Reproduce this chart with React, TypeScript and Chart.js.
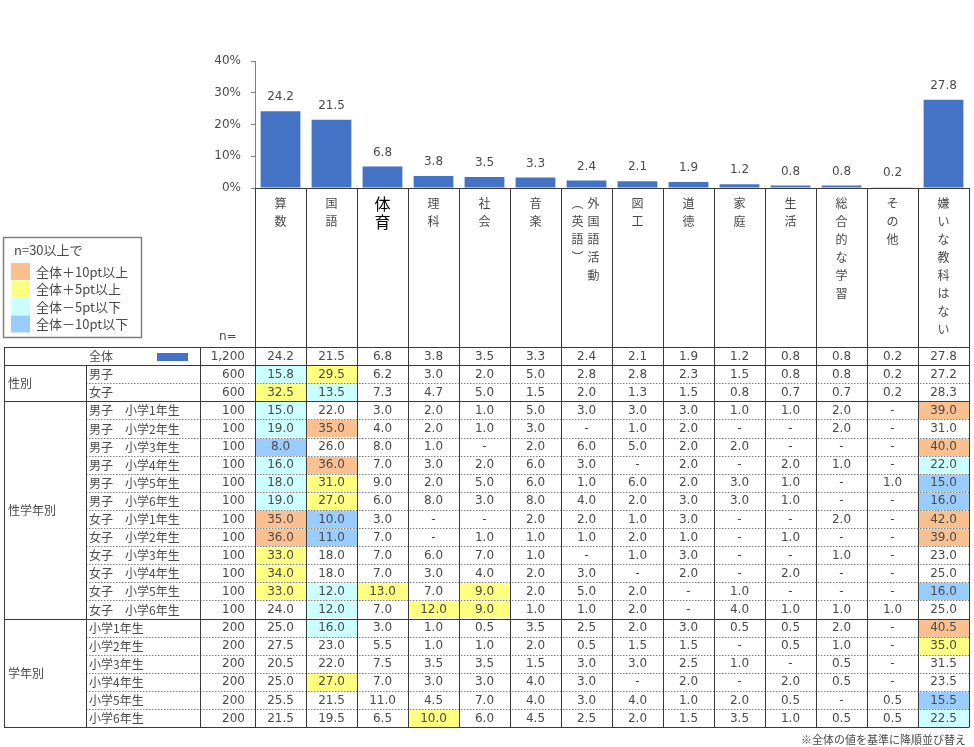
import React, { useEffect, useRef } from 'react';
import { Chart, registerables } from 'chart.js';

Chart.register(...registerables);

// ---------- data ----------
const subjects = ['算数', '国語', '体育', '理科', '社会', '音楽', '外国語活動（英語）', '図工', '道徳', '家庭', '生活', '総合的な学習', 'その他', '嫌いな教科はない'];
const headerColumns: string[][] = [['算数'], ['国語'], ['体育'], ['理科'], ['社会'], ['音楽'], ['外国語活動', '︵英語︶'], ['図工'], ['道徳'], ['家庭'], ['生活'], ['総合的な学習'], ['その他'], ['嫌いな教科はない']];
const overall = [24.2, 21.5, 6.8, 3.8, 3.5, 3.3, 2.4, 2.1, 1.9, 1.2, 0.8, 0.8, 0.2, 27.8];
const yTicks = [0, 10, 20, 30, 40];

const rowLabels = ['全体', '男子', '女子',
  '男子　小学1年生', '男子　小学2年生', '男子　小学3年生', '男子　小学4年生', '男子　小学5年生', '男子　小学6年生',
  '女子　小学1年生', '女子　小学2年生', '女子　小学3年生', '女子　小学4年生', '女子　小学5年生', '女子　小学6年生',
  '小学1年生', '小学2年生', '小学3年生', '小学4年生', '小学5年生', '小学6年生'];
const rowN = [1200, 600, 600, 100, 100, 100, 100, 100, 100, 100, 100, 100, 100, 100, 100, 200, 200, 200, 200, 200, 200];
const _ = null;
const rowValues: (number | null)[][] = [
  overall,
  [15.8, 29.5, 6.2, 3.0, 2.0, 5.0, 2.8, 2.8, 2.3, 1.5, 0.8, 0.8, 0.2, 27.2],
  [32.5, 13.5, 7.3, 4.7, 5.0, 1.5, 2.0, 1.3, 1.5, 0.8, 0.7, 0.7, 0.2, 28.3],
  [15.0, 22.0, 3.0, 2.0, 1.0, 5.0, 3.0, 3.0, 3.0, 1.0, 1.0, 2.0, _, 39.0],
  [19.0, 35.0, 4.0, 2.0, 1.0, 3.0, _, 1.0, 2.0, _, _, 2.0, _, 31.0],
  [8.0, 26.0, 8.0, 1.0, _, 2.0, 6.0, 5.0, 2.0, 2.0, _, _, _, 40.0],
  [16.0, 36.0, 7.0, 3.0, 2.0, 6.0, 3.0, _, 2.0, _, 2.0, 1.0, _, 22.0],
  [18.0, 31.0, 9.0, 2.0, 5.0, 6.0, 1.0, 6.0, 2.0, 3.0, 1.0, _, 1.0, 15.0],
  [19.0, 27.0, 6.0, 8.0, 3.0, 8.0, 4.0, 2.0, 3.0, 3.0, 1.0, _, _, 16.0],
  [35.0, 10.0, 3.0, _, _, 2.0, 2.0, 1.0, 3.0, _, _, 2.0, _, 42.0],
  [36.0, 11.0, 7.0, _, 1.0, 1.0, 1.0, 2.0, 1.0, _, 1.0, _, _, 39.0],
  [33.0, 18.0, 7.0, 6.0, 7.0, 1.0, _, 1.0, 3.0, _, _, 1.0, _, 23.0],
  [34.0, 18.0, 7.0, 3.0, 4.0, 2.0, 3.0, _, 2.0, _, 2.0, _, _, 25.0],
  [33.0, 12.0, 13.0, 7.0, 9.0, 2.0, 5.0, 2.0, _, 1.0, _, _, _, 16.0],
  [24.0, 12.0, 7.0, 12.0, 9.0, 1.0, 1.0, 2.0, _, 4.0, 1.0, 1.0, 1.0, 25.0],
  [25.0, 16.0, 3.0, 1.0, 0.5, 3.5, 2.5, 2.0, 3.0, 0.5, 0.5, 2.0, _, 40.5],
  [27.5, 23.0, 5.5, 1.0, 1.0, 2.0, 0.5, 1.5, 1.5, _, 0.5, 1.0, _, 35.0],
  [20.5, 22.0, 7.5, 3.5, 3.5, 1.5, 3.0, 3.0, 2.5, 1.0, _, 0.5, _, 31.5],
  [25.0, 27.0, 7.0, 3.0, 3.0, 4.0, 3.0, _, 2.0, _, 2.0, 0.5, _, 23.5],
  [25.5, 21.5, 11.0, 4.5, 7.0, 4.0, 3.0, 4.0, 1.0, 2.0, 0.5, _, 0.5, 15.5],
  [21.5, 19.5, 6.5, 10.0, 6.0, 4.5, 2.5, 2.0, 1.5, 3.5, 1.0, 0.5, 0.5, 22.5],
];
const groupLabels = ['性別', '性学年別', '学年別'];
const groupStarts = [1, 3, 15];
const groupCounts = [2, 12, 6];

const legendTitle = 'n=30以上で';
const legendLabels = ['全体＋10pt以上', '全体＋5pt以上', '全体－5pt以下', '全体－10pt以下'];
const legendColors = ['#FAC090', '#FFFF80', '#CCFFFF', '#99CCFF'];
const footnote = '※全体の値を基準に降順並び替え';

// ---------- style ----------
const FONT = '"DejaVu Sans", "Noto Sans CJK JP", sans-serif';
const JFONT = '"Noto Sans CJK JP", "DejaVu Sans", sans-serif';
const TEXT = '#4a4a4a';
const LINE = '#3a3a3a';
const BAR = '#4472C4';
const TABLE_TOP = 347;
const ROW_H = 18.1;

function cellColor(v: number | null, base: number): string | null {
  if (v == null) return null;
  const d = Math.round((v - base) * 10) / 10;
  if (d >= 10) return legendColors[0];
  if (d >= 5) return legendColors[1];
  if (d <= -10) return legendColors[3];
  if (d <= -5) return legendColors[2];
  return null;
}

const px = (v: number) => Math.round(v) + 0.5;

const barLabelPlugin = {
  id: 'barLabels',
  afterDatasetsDraw(chart: any) {
    const ctx = chart.ctx;
    const meta = chart.getDatasetMeta(0);
    ctx.save();
    ctx.font = '12px ' + FONT;
    ctx.fillStyle = TEXT;
    ctx.textAlign = 'center';
    ctx.textBaseline = 'middle';
    meta.data.forEach((el: any, i: number) => {
      ctx.fillText(overall[i].toFixed(1), el.x, el.y - 14);
    });
    ctx.restore();
  },
};

const tablePlugin = {
  id: 'table',
  afterDraw(chart: any) {
    const ctx: CanvasRenderingContext2D = chart.ctx;
    const xs = chart.scales.x;
    const area = chart.chartArea;
    const colW = xs.getPixelForValue(1) - xs.getPixelForValue(0);
    const colLeft = (i: number) => xs.getPixelForValue(i) - colW / 2;
    const ncol = subjects.length;
    const right = colLeft(ncol);
    const nRows = rowLabels.length;
    const rowY = (r: number) => TABLE_TOP + r * ROW_H;
    const bottom = rowY(nRows);
    const L0 = 4, L1 = 86, L2 = 200;
    ctx.save();

    // cell fills
    for (let r = 1; r < nRows; r++) {
      for (let c = 0; c < ncol; c++) {
        const col = cellColor(rowValues[r][c], overall[c]);
        if (!col) continue;
        ctx.fillStyle = col;
        ctx.fillRect(Math.round(colLeft(c)) + 1, Math.round(rowY(r)) + 1, Math.round(colW) - 1, Math.round(ROW_H) - 1);
      }
    }

    // dotted lines inside groups
    ctx.strokeStyle = '#808080';
    ctx.lineWidth = 1;
    ctx.setLineDash([1.5, 1.5]);
    groupStarts.forEach((s, g) => {
      for (let k = 1; k < groupCounts[g]; k++) {
        const y = px(rowY(s + k));
        ctx.beginPath(); ctx.moveTo(L1, y); ctx.lineTo(right, y); ctx.stroke();
      }
    });
    ctx.setLineDash([]);

    // solid lines
    ctx.strokeStyle = LINE;
    const hLines = [0, 1, ...groupStarts.map((s, g) => s + groupCounts[g])];
    hLines.forEach((r) => {
      const y = px(rowY(r));
      ctx.beginPath(); ctx.moveTo(L0, y); ctx.lineTo(right + 0.5, y); ctx.stroke();
    });
    // x axis line
    ctx.beginPath(); ctx.moveTo(px(colLeft(0)), px(area.bottom)); ctx.lineTo(px(right), px(area.bottom)); ctx.stroke();
    // verticals
    const vline = (x: number, y0: number, y1: number) => {
      ctx.beginPath(); ctx.moveTo(px(x), y0); ctx.lineTo(px(x), y1); ctx.stroke();
    };
    vline(L0, rowY(0), bottom);
    vline(L1, rowY(1), bottom);
    vline(L2, rowY(0), bottom);
    for (let c = 0; c <= ncol; c++) vline(colLeft(c), area.bottom, bottom);

    // header vertical text
    ctx.textAlign = 'center';
    ctx.textBaseline = 'middle';
    headerColumns.forEach((cols, c) => {
      const cx = xs.getPixelForValue(c);
      const big = c === 2;
      ctx.font = (big ? '16px ' : '12px ') + JFONT;
      ctx.fillStyle = big ? '#000' : TEXT;
      cols.forEach((str, k) => {
        const x = cols.length === 1 ? cx : (k === 0 ? cx + 7 : cx - 9);
        [...str].forEach((ch, j) => ctx.fillText(ch, x, 203 + j * 18.1 + (big ? 1 : 0)));
      });
    });

    // n= label
    ctx.font = '12px ' + FONT;
    ctx.fillStyle = TEXT;
    ctx.textAlign = 'left';
    ctx.fillText('n=', 219, 337);

    // legend box
    ctx.strokeStyle = '#7f7f7f';
    ctx.lineWidth = 1.5;
    ctx.strokeRect(3.5, 237.5, 138, 100);
    ctx.lineWidth = 1;
    ctx.font = '13px ' + JFONT;
    ctx.fillStyle = TEXT;
    ctx.fillText(legendTitle, 14, 250);
    legendLabels.forEach((lab, i) => {
      const y = 263 + i * 17.5;
      ctx.fillStyle = legendColors[i];
      ctx.fillRect(11, y, 19, 17);
      ctx.fillStyle = TEXT;
      ctx.fillText(lab, 36, y + 9);
    });

    // table text
    for (let r = 0; r < nRows; r++) {
      const cy = rowY(r) + ROW_H / 2 + 0.5;
      ctx.font = '12px ' + JFONT;
      ctx.fillStyle = TEXT;
      if (r === 0) {
        ctx.textAlign = 'center';
        ctx.fillText(rowLabels[r], 101, cy);
        ctx.fillStyle = BAR;
        ctx.fillRect(157, Math.round(cy) - 4, 31, 8);
        ctx.fillStyle = TEXT;
      } else {
        ctx.textAlign = 'left';
        ctx.fillText(rowLabels[r], 89, cy);
      }
      ctx.font = '12px ' + FONT;
      ctx.textAlign = 'right';
      ctx.fillText(rowN[r].toLocaleString('en-US'), 245, cy);
      ctx.textAlign = 'center';
      for (let c = 0; c < ncol; c++) {
        const v = rowValues[r][c];
        ctx.fillText(v == null ? '-' : v.toFixed(1), xs.getPixelForValue(c), cy);
      }
    }
    // group labels
    ctx.font = '12px ' + JFONT;
    ctx.textAlign = 'left';
    groupStarts.forEach((s, g) => {
      const cy = rowY(s) + (groupCounts[g] * ROW_H) / 2 + 0.5;
      ctx.fillText(groupLabels[g], 8, cy);
    });

    // footnote
    ctx.font = '11px ' + JFONT;
    ctx.textAlign = 'right';
    ctx.fillText(footnote, 966, 740);

    ctx.restore();
  },
};

export default function App() {
  const ref = useRef<HTMLCanvasElement | null>(null);
  useEffect(() => {
    if (!ref.current) return;
    const chart = new Chart(ref.current, {
      type: 'bar',
      data: {
        labels: subjects,
        datasets: [{
          data: overall,
          backgroundColor: BAR,
          borderWidth: 0,
          barPercentage: 0.78,
          categoryPercentage: 1,
        }],
      },
      options: {
        responsive: false,
        animation: false,
        devicePixelRatio: 1,
        layout: { padding: { left: 0, right: 5, top: 61, bottom: 559 } },
        plugins: { legend: { display: false }, tooltip: { enabled: false } },
        scales: {
          x: { display: false },
          y: {
            min: 0,
            max: 40,
            afterFit: (s: any) => { s.width = 255; },
            afterBuildTicks: (s: any) => { s.ticks = yTicks.map((v) => ({ value: v })); },
            ticks: {
              callback: (v: any) => v + '%',
              font: { size: 12, family: FONT },
              color: TEXT,
              padding: 10,
            },
            grid: { drawOnChartArea: false, drawTicks: true, tickLength: 4, color: '#808080' },
            border: { color: '#808080' },
          },
        },
      },
      plugins: [barLabelPlugin, tablePlugin],
    } as any);
    return () => chart.destroy();
  }, []);
  return (
    <div style={{ position: 'absolute', left: 0, top: 0, width: 974, height: 747, background: '#fff' }}>
      <canvas ref={ref} width={974} height={747} style={{ display: 'block' }} />
    </div>
  );
}
